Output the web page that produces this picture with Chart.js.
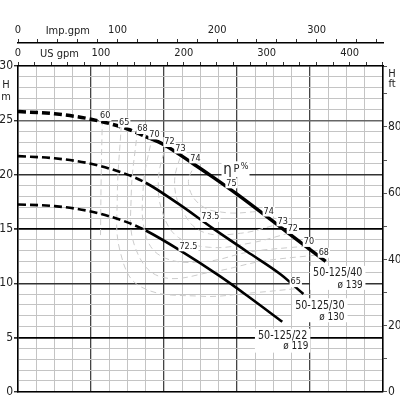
<!DOCTYPE html>
<html>
<head>
<meta charset="utf-8">
<script src="https://cdn.jsdelivr.net/npm/chart.js@4.4.1/dist/chart.umd.min.js"></script>
<style>
  html, body { margin: 0; padding: 0; background: #fff; }
  #wrap { width: 400px; height: 400px; }
</style>
</head>
<body>
<div id="wrap"><canvas id="myChart" width="400" height="400"></canvas></div>
<script>
// pump curves, flow in m3/h, head in m
var flow40 = [0, 10, 20, 30, 35, 40, 48, 53.7, 60, 72, 84.3];
var head40 = [25.8, 25.6, 25.1, 24.2, 23.5, 22.75, 21.0, 19.7, 18.2, 15.15, 12.0];
var flow30 = [0, 10, 20, 30, 35, 44, 53.6, 62.8, 72, 78.2];
var head30 = [21.7, 21.5, 21.0, 20.0, 19.25, 17.3, 15.0, 12.9, 10.8, 9.0];
var flow22 = [0, 10, 20, 30, 35, 44.5, 55.5, 63, 72.4];
var head22 = [17.25, 17.1, 16.6, 15.6, 14.85, 13.0, 10.6, 8.8, 6.45];
var dashEnd = 35;

// iso-efficiency lines (%)
var eff60Q = [23.1, 22.8, 22.6];
var eff60H = [25.1, 20.0, 14.2];
var eff65Q = [28.3, 27.2, 28.0, 33.5, 50.0, 63.7, 76.4];
var eff65H = [24.6, 17.8, 12.9, 9.7, 8.8, 9.1, 9.5];
var eff68Q = [32.7, 31.0, 32.1, 39.0, 54.1, 66.5, 82.0];
var eff68H = [24.1, 17.9, 13.3, 10.6, 11.1, 12.0, 12.6];
var eff70Q = [36.8, 34.3, 35.2, 40.4, 51.4, 63.7, 78.5];
var eff70H = [23.6, 18.8, 14.2, 12.3, 12.0, 12.9, 13.4];
var eff72Q = [40.7, 38.5, 39.6, 44.0, 52.7, 63.7, 74.2];
var eff72H = [22.9, 19.7, 16.5, 14.2, 13.3, 13.7, 14.6];
var eff73Q = [45.1, 42.9, 45.3, 50.8, 61.0, 71.0];
var eff73H = [22.4, 19.2, 16.5, 14.7, 14.6, 15.4];
var eff74Q = [48.9, 46.7, 50.0, 56.9, 66.0];
var eff74H = [21.2, 19.2, 17.2, 16.5, 16.6];

// efficiency labels along the curves
var effText = ["60", "65", "68", "70", "72", "73", "74", "75", "74", "73", "72", "70", "68", "73.5", "72.5", "65"];
var effTextQ = [23.9, 29.1, 34.1, 37.4, 41.5, 44.5, 48.6, 58.5, 68.7, 72.5, 75.3, 79.7, 83.8, 52.7, 46.7, 76.1];
var effTextH = [25.4, 24.8, 24.2, 23.7, 23.0, 22.4, 21.5, 19.2, 16.6, 15.7, 15.0, 13.8, 12.8, 16.1, 13.4, 10.1];

var pumpNames = ["50-125/40", "50-125/30", "50-125/22"];
var impellers = ["ø 139", "ø 130", "ø 119"];
var nameQ = [87.6, 82.7, 72.5];
var nameH = [10.95, 7.97, 5.17];
var impQ = [91.0, 86.0, 76.1];
var impH = [9.8, 6.9, 4.2];

// secondary axis ticks
var usTicks = [0, 20, 40, 60, 80, 100, 120, 140, 160, 180, 200, 220, 240, 260, 280, 300, 320, 340, 360, 380, 400, 420, 440];
var impTicks = [0, 20, 40, 60, 80, 100, 120, 140, 160, 180, 200, 220, 240, 260, 280, 300, 320, 340, 360];

var usPerM3h = 4.40287;
var impPerM3h = 3.66615;
var ftPerM = 3.28084;

function pts(q, h) {
    return q.map(function (v, i) { return { x: v, y: h[i] }; });
}

var FONT = "'Liberation Sans Narrow', 'DejaVu Sans Condensed', sans-serif";
Chart.defaults.font.family = FONT;
Chart.defaults.color = "#222";

function pumpSet(q, h, w) {
    return {
        data: pts(q, h),
        borderColor: "#000",
        borderWidth: w,
        pointRadius: 0,
        tension: 0.4,
        cubicInterpolationMode: "monotone",
        order: 0,
        segment: {
            borderDash: function (c) { return c.p0.parsed.x < dashEnd ? [8, 4] : undefined; }
        }
    };
}

function effSet(q, h) {
    return {
        data: pts(q, h),
        borderColor: "#cccccc",
        borderWidth: 1,
        borderDash: [6, 4],
        pointRadius: 0,
        tension: 0.4,
        order: 1
    };
}

function boxText(ctx, t, px, py, font) {
    ctx.font = font;
    var w = ctx.measureText(t).width;
    ctx.fillStyle = "#fff";
    ctx.fillRect(px - w / 2 - 1, py - 5, w + 2, 10);
    ctx.fillStyle = "#222";
    ctx.fillText(t, px, py);
}

function narrowText(ctx, t, px, py, sx) {
    ctx.save();
    ctx.translate(px, py);
    ctx.scale(sx, 1);
    ctx.fillText(t, 0, 0);
    ctx.restore();
}

var textPlugin = {
    id: "pumpText",
    afterDatasetsDraw: function (chart) {
        var ctx = chart.ctx;
        var x = chart.scales.x, y = chart.scales.y;
        var area = chart.chartArea;
        ctx.save();
        ctx.textAlign = "center";
        ctx.textBaseline = "middle";
        for (var i = 0; i < effText.length; i++) {
            boxText(ctx, effText[i], x.getPixelForValue(effTextQ[i]), y.getPixelForValue(effTextH[i]), "9px " + FONT);
        }
        for (var j = 0; j < pumpNames.length; j++) {
            ctx.font = "13px " + FONT;
            var px = x.getPixelForValue(nameQ[j]), py = y.getPixelForValue(nameH[j]);
            var w = ctx.measureText(pumpNames[j]).width * 0.82;
            ctx.fillStyle = "#fff";
            ctx.fillRect(px - w / 2 - 3, py - 7, w + 6, 24);
            ctx.fillStyle = "#222";
            narrowText(ctx, pumpNames[j], px, py, 0.82);
            ctx.font = "11px " + FONT;
            narrowText(ctx, impellers[j], x.getPixelForValue(impQ[j]), y.getPixelForValue(impH[j]), 0.9);
        }
        // eta P %
        var ex = x.getPixelForValue(57.4), ey = y.getPixelForValue(20.4);
        ctx.fillStyle = "#fff";
        ctx.fillRect(ex - 6, ey - 9, 28, 16);
        ctx.fillStyle = "#222";
        ctx.font = "15px " + FONT;
        ctx.fillText("η", ex, ey);
        ctx.font = "11px " + FONT;
        ctx.fillText("P", ex + 9, ey - 1);
        ctx.font = "9px " + FONT;
        ctx.fillText("%", ex + 17, ey - 4);
        // axis titles
        ctx.font = "11px " + FONT;
        ctx.fillText("H", area.left - 12, y.getPixelForValue(28.2));
        ctx.fillText("m", area.left - 12, y.getPixelForValue(27.1));
        ctx.fillText("H", area.right + 9, y.getPixelForValue(29.25));
        ctx.fillText("ft", area.right + 9, y.getPixelForValue(28.35));
        var xi = chart.scales.xImp, xu = chart.scales.xUS;
        ctx.fillText("Imp.gpm", xi.getPixelForValue(50), xi.bottom - 12);
        ctx.fillText("US gpm", xu.getPixelForValue(50), xu.bottom - 12);
        ctx.restore();
    }
};

function topAxis(max, weight, tickList) {
    return {
        type: "linear",
        position: "top",
        weight: weight,
        min: 0,
        max: max,
        afterFit: function (s) { s.height = 23; },
        afterBuildTicks: function (s) {
            s.ticks = tickList.map(function (v) { return { value: v }; });
        },
        ticks: {
            autoSkip: false,
            maxRotation: 0,
            padding: 2,
            font: { size: 11 },
            callback: function (v) { return v % 100 === 0 ? v : ""; }
        },
        grid: { drawOnChartArea: false, tickLength: 4, color: "#333", lineWidth: 1 },
        border: { display: true, color: "#000", width: 1.5 }
    };
}

new Chart(document.getElementById("myChart"), {
    type: "line",
    data: {
        datasets: [
            pumpSet(flow40, head40, 3.5),
            pumpSet(flow30, head30, 2.6),
            pumpSet(flow22, head22, 2.6),
            effSet(eff60Q, eff60H),
            effSet(eff65Q, eff65H),
            effSet(eff68Q, eff68H),
            effSet(eff70Q, eff70H),
            effSet(eff72Q, eff72H),
            effSet(eff73Q, eff73H),
            effSet(eff74Q, eff74H)
        ]
    },
    options: {
        responsive: false,
        animation: false,
        devicePixelRatio: 1,
        layout: { padding: { top: 20, bottom: 3, left: 0, right: 0 } },
        plugins: { legend: { display: false }, tooltip: { enabled: false } },
        scales: {
            x: {
                type: "linear",
                position: "bottom",
                min: 0,
                max: 100,
                afterFit: function (s) { s.height = 0; },
                ticks: { display: false, stepSize: 5 },
                grid: {
                    drawTicks: false,
                    color: function (c) { return c.tick && c.tick.value % 20 === 0 ? "#444" : "#c4c4c4"; },
                    lineWidth: function (c) { return c.tick && c.tick.value % 20 === 0 ? 1.3 : 1; }
                },
                border: { display: true, color: "#000", width: 1.5 }
            },
            xUS: topAxis(100 * usPerM3h, 1, usTicks),
            xImp: topAxis(100 * impPerM3h, 2, impTicks),
            y: {
                type: "linear",
                position: "left",
                min: 0,
                max: 30,
                afterFit: function (s) { s.width = 18; },
                ticks: {
                    stepSize: 1,
                    autoSkip: false,
                    padding: 1,
                    font: { size: 12 },
                    callback: function (v) { return v % 5 === 0 ? v : ""; }
                },
                grid: {
                    tickLength: 4,
                    tickColor: function (c) { return c.tick && c.tick.value % 5 === 0 ? "#333" : "rgba(0,0,0,0)"; },
                    color: function (c) {
                        var v = c.tick ? c.tick.value : 0;
                        if (v === 5 || v === 15) return "#000";
                        if (v === 10 || v === 20) return "#333";
                        if (v === 25) return "#666";
                        return "#c4c4c4";
                    },
                    lineWidth: function (c) {
                        var v = c.tick ? c.tick.value : 0;
                        if (v === 5 || v === 15) return 1.8;
                        if (v % 5 === 0) return 1.4;
                        return 1;
                    }
                },
                border: { display: true, color: "#000", width: 1.5 }
            },
            yFt: {
                type: "linear",
                position: "right",
                min: 0,
                max: 30 * ftPerM,
                afterFit: function (s) { s.width = 17; },
                ticks: {
                    stepSize: 10,
                    autoSkip: false,
                    padding: 1,
                    font: { size: 12 },
                    callback: function (v) { return v % 20 === 0 ? v : ""; }
                },
                grid: { drawOnChartArea: false, tickLength: 4, color: "#555", lineWidth: 1 },
                border: { display: true, color: "#000", width: 1.5 }
            }
        }
    },
    plugins: [textPlugin]
});
</script>
</body>
</html>
